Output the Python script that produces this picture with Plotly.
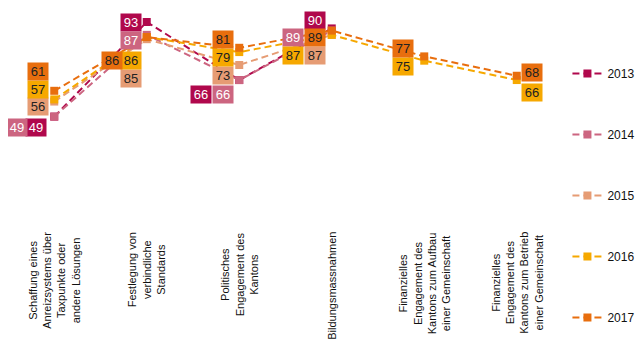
import plotly.graph_objects as go

categories = [
    "Schaffung eines<br>Anreizsystems über<br>Taxpunkte oder<br>andere Lösungen",
    "Festlegung von<br>verbindliche<br>Standards",
    "Politisches<br>Engagement des<br>Kantons",
    "Bildungsmassnahmen",
    "Finanzielles<br>Engagement des<br>Kantons zum Aufbau<br>einer Gemeinschaft",
    "Finanzielles<br>Engagement des<br>Kantons zum Betrieb<br>einer Gemeinschaft",
]
years = ["2013", "2014", "2015", "2016", "2017"]
v2013 = [49, 93, 66, 90]
v2014 = [49, 87, 66, 89]
v2015 = [56, 85, 73, 87]
v2016 = [57, 86, 79, 87, 75, 66]
v2017 = [61, 86, 81, 89, 77, 68]
series = [v2013, v2014, v2015, v2016, v2017]

colors = ["#B0084C", "#CC6580", "#E69C74", "#F6A800", "#E86E0E"]
text_colors = ["#ffffff", "#ffffff", "#222222", "#222222", "#222222"]

# label offsets in pixels (dx, dy-down) relative to the marker
offsets = [
    [(-18, 11), (-16, 1), (-38, 14), (-17, -8)],
    [(-37, 11), (-16, 6), (-16, 14), (-39, 7)],
    [(-16, 5), (-16, 39), (-16, 11), (-17, 21)],
    [(-16, -10), (-16, 23), (-16, 5), (-39, 21), (-21, 6), (15, 12)],
    [(-16, -19), (-35, 23), (-16, -8), (-17, 7), (-21, -8), (15, -3)],
]

FONT = "Liberation Sans, Arial, sans-serif"
fig = go.Figure()
annotations = []
for i, (yr, vals) in enumerate(zip(years, series)):
    xs = list(range(len(vals)))
    fig.add_trace(go.Scatter(
        x=xs, y=vals, name=yr, mode="lines+markers",
        line=dict(color=colors[i], width=2, dash="7px,4px"),
        marker=dict(symbol="square", size=8, color=colors[i]),
        legendgroup=yr,
    ))
    for j, v in enumerate(vals):
        dx, dy = offsets[i][j]
        annotations.append(dict(
            x=xs[j], y=v, xref="x", yref="y", text=str(v), showarrow=False,
            xshift=dx, yshift=-dy, bgcolor=colors[i], width=20, height=17,
            font=dict(family=FONT, size=13, color=text_colors[i]),
            borderpad=0,
        ))

for j, c in enumerate(categories):
    annotations.append(dict(
        x=j, y=0, xref="x", yref="paper", text=c, showarrow=False,
        textangle=-90, yanchor="top", xanchor="center", yshift=-8,
        align="center", font=dict(family=FONT, size=11, color="#111111"),
    ))

fig.update_layout(
    width=635, height=346,
    margin=dict(l=0, r=80, t=0, b=132, autoexpand=False),
    plot_bgcolor="white", paper_bgcolor="white",
    xaxis=dict(range=[-0.5, 5.5], showgrid=False, zeroline=False,
               showticklabels=False, showline=False, fixedrange=True),
    yaxis=dict(range=[0, 99.5], showgrid=False, zeroline=False,
               showticklabels=False, showline=False, fixedrange=True),
    showlegend=True,
    legend=dict(x=1.008, xanchor="left", y=0.762, yanchor="top",
                tracegroupgap=42, itemwidth=30, maxheight=400,
                font=dict(family=FONT, size=12, color="#111111")),
    annotations=annotations,
)
fig.write_html("out.html")
